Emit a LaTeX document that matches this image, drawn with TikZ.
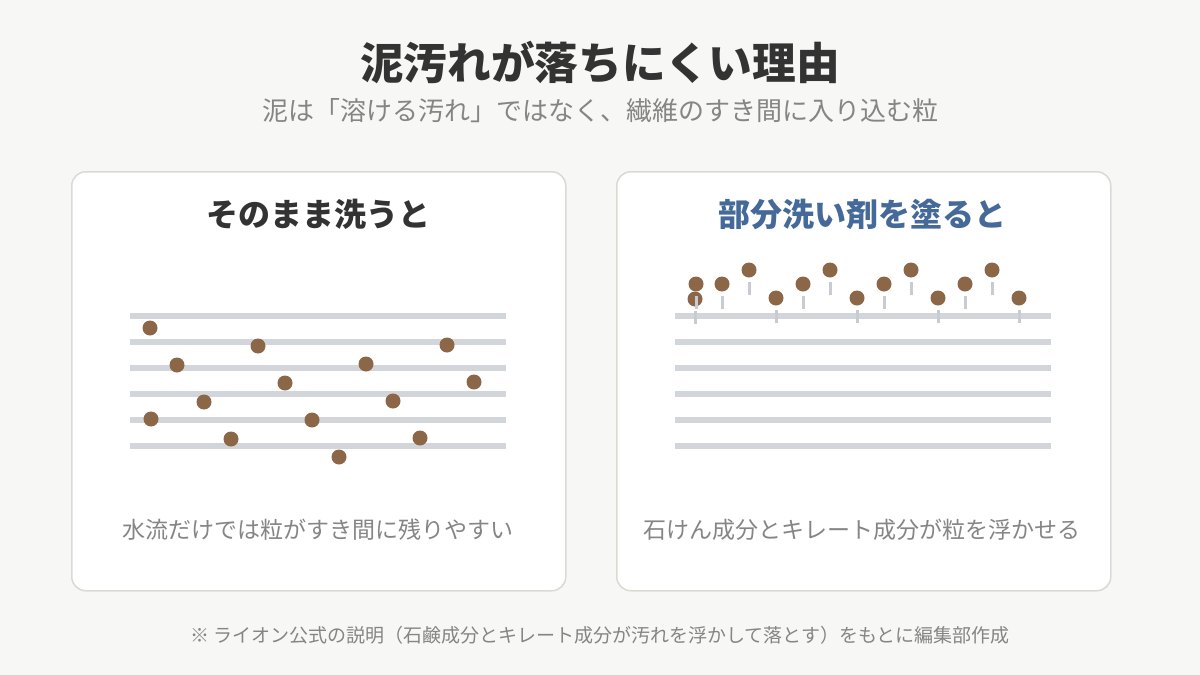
\documentclass[tikz,border=0pt]{standalone}
\usepackage{fontspec}
\setmainfont{Noto Sans CJK JP}
\usetikzlibrary{positioning}
\definecolor{pagebg}{HTML}{F7F7F5}
\definecolor{cardline}{HTML}{DADAD5}
\definecolor{inkdark}{HTML}{333333}
\definecolor{inkgray}{HTML}{858585}
\definecolor{inkblue}{HTML}{456A9A}
\definecolor{fibergray}{HTML}{D2D5DA}
\definecolor{stemgray}{HTML}{C8CCD2}
\definecolor{mud}{HTML}{8B6748}
\tikzstyle{card} = [rectangle,
                      rounded corners=14pt,
                      anchor=north west,
                      draw=cardline,
                      line width=1.5pt,
                      fill=white,
                      minimum width=494pt,
                      minimum height=419pt]
\tikzstyle{cardhead} = [inner sep=0pt,
                      font=\fontsize{32}{38}\selectfont\bfseries]
\tikzstyle{caption} = [inner sep=0pt,
                      text=inkgray,
                      font=\fontsize{23}{28}\selectfont]
\tikzstyle{fiber} = [line width=6.5pt, draw=fibergray]
\tikzstyle{stem} = [line width=3pt, draw=stemgray]
\tikzstyle{dirt} = [circle,
                      inner sep=0pt,
                      minimum size=15pt,
                      fill=mud]

\begin{document}
\begin{tikzpicture}[x=1pt,y=-1pt]
     \useasboundingbox[fill=pagebg] (0,0) rectangle (1200,675);
     % title
     \node [inner sep=0pt, text=inkdark, font=\fontsize{43.7}{50}\selectfont\bfseries] (title) at (600,62) {泥汚れが落ちにくい理由};
     \node [inner sep=0pt, text=inkgray, font=\fontsize{26}{31}\selectfont] (subtitle) at (600,111) {泥は「溶ける汚れ」ではなく、繊維のすき間に入り込む粒};
     % cards
     \node [card] (leftcard) at (71,171) {};
     \node [card] (rightcard) at (616,171) {};
     \node [cardhead, text=inkdark] (lefthead) at (318,214) {そのまま洗うと};
     \node [cardhead, text=inkblue] (righthead) at (862,214) {部分洗い剤を塗ると};
     % fibers
     \foreach \y in {316,342,368,394,420,446} {
     	\draw [fiber] (130,\y) -- (506,\y);
     	\draw [fiber] (675,\y) -- (1051,\y);
     }
     % dirt stuck between the fibers
     \foreach \x/\y [count=\i] in {150/328,258/346,447/345,177/365,366/364,285/383,474/382,
     	204/402,393/401,151/419,312/420,231/439,420/438,339/457} {
     	\node [dirt] (ld\i) at (\x,\y) {};
     }
     % dirt lifted off the fibers
     \foreach \x/\y [count=\i] in {695/299,696/284,722/284,749/270,776/298,803/284,830/270,
     	857/298,884/284,911/270,938/298,965/284,992/270,1019/298} {
     	\node [dirt] (rd\i) at (\x,\y) {};
     	\draw [stem] (\x,\y+12) -- (\x,\y+25);
     }
     % captions
     \node [caption] (leftcap) at (318,530) {水流だけでは粒がすき間に残りやすい};
     \node [caption] (rightcap) at (862,530) {石けん成分とキレート成分が粒を浮かせる};
     \node [inner sep=0pt, text=inkgray, font=\fontsize{19}{23}\selectfont] (note) at (600,635) {※ ライオン公式の説明（石鹸成分とキレート成分が汚れを浮かして落とす）をもとに編集部作成};
\end{tikzpicture}
\end{document}
